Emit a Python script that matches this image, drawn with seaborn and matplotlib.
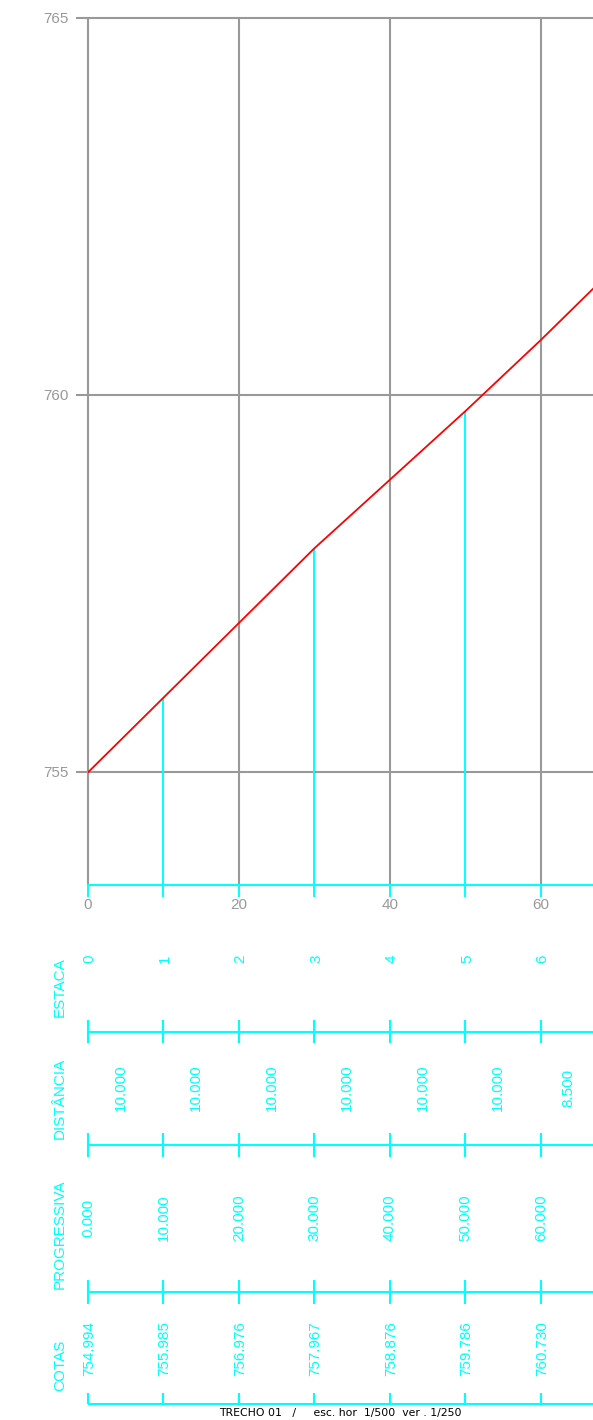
import numpy as np
import pandas as pd
import seaborn as sns
import matplotlib.pyplot as plt

# longitudinal profile data
estacas = [0, 1, 2, 3, 4, 5, 6]
distancias = [10.0, 10.0, 10.0, 10.0, 10.0, 10.0, 8.5]
progressivas = [0.0, 10.0, 20.0, 30.0, 40.0, 50.0, 60.0]
cotas = [754.994, 755.985, 756.976, 757.967, 758.876, 759.786, 760.730]
fim_progressiva = 68.5
fim_cota = 761.565
linhas_verticais = [10.0, 30.0, 50.0]

CYAN = "#00FFFF"
GRAY = "#999999"
W, H = 593, 1420
XMAX = 66.9
YMIN, YMAX = 753.5, 765
PX = (W - 88) / XMAX  # pixels per metre

sns.set_theme(style="white")
plt.rcParams["font.family"] = ["Liberation Sans", "DejaVu Sans"]

fig = plt.figure(figsize=(W / 100, H / 100), dpi=100)

# profile axes
ax = fig.add_axes([88 / W, 1 - 885 / H, (W - 88) / W, (885 - 18) / H])
perfil = pd.DataFrame({"x": progressivas + [fim_progressiva],
                       "cota": cotas + [fim_cota]})

for yv in [755, 760, 765]:
    ax.plot([0, XMAX], [yv, yv], color=GRAY, lw=1.5, zorder=1, clip_on=False)
for xv in [0, 20, 40, 60]:
    ax.plot([xv, xv], [YMIN, YMAX], color=GRAY, lw=1.5, zorder=1, clip_on=False)

for xv in linhas_verticais:
    ax.vlines(xv, YMIN, cotas[progressivas.index(xv)], color=CYAN, lw=1.4, zorder=2)

sns.lineplot(data=perfil, x="x", y="cota", color="red", lw=1.3, ax=ax, zorder=3)

ax.set_xlim(0, XMAX)
ax.set_ylim(YMIN, YMAX)
ax.set_xlabel("")
ax.set_ylabel("")
ax.set_yticks([755, 760, 765])
ax.set_xticks([0, 20, 40, 60])
ax.set_xticks([10, 30, 50], minor=True)
ax.tick_params(axis="y", left=True, length=8.6, width=1.5, color=GRAY,
               labelcolor=GRAY, labelsize=11, pad=5.5)
ax.tick_params(axis="x", which="both", bottom=True, length=8.3, width=1.4,
               color=CYAN, labelcolor=GRAY, labelsize=11, pad=1)
for s in ["top", "right", "left"]:
    ax.spines[s].set_visible(False)
ax.spines["bottom"].set_color(CYAN)
ax.spines["bottom"].set_linewidth(1.5)
ax.spines["bottom"].set_zorder(4)
ax.set_facecolor("white")

# table axes (y in pixels from the top)
tb = fig.add_axes([0, 0, 1, (H - 885) / H])
tb.set_xlim(-88 / PX, XMAX)
tb.set_ylim(H, 885)
tb.axis("off")

linhas = [(1032, 1020, 1043), (1145, 1133, 1157), (1292, 1280, 1304), (1404, 1393, 1404)]
for y, y0, y1 in linhas:
    tb.hlines(y, 0, XMAX, color=CYAN, lw=1.5)
    tb.vlines(progressivas, y0, y1, color=CYAN, lw=1.5)

txt = dict(color=CYAN, fontsize=11, rotation=90, ha="center", va="center")
lx = (60 - 88) / PX
tb.text(lx, 987, "ESTACA", **txt)
tb.text(lx, 1098, "DISTÂNCIA", **txt)
tb.text(lx, 1234, "PROGRESSIVA", **txt)
tb.text(lx, 1365, "COTAS", **txt)

for p, e, d, c in zip(progressivas, estacas, distancias, cotas):
    tb.text(p + 1.5 / PX, 959, str(e), **txt)
    tb.text(p + d / 2 - 5 / PX, 1088, f"{d:.3f}", **txt)
    tb.text(p, 1218, f"{p:.3f}", **txt)
    tb.text(p + 1 / PX, 1349, f"{c:.3f}", **txt)

tb.text((340 - 88) / PX, 1413, "TRECHO 01   /     esc. hor  1/500  ver . 1/250",
        color="black", fontsize=7.8, ha="center", va="center", family="DejaVu Sans")

fig.savefig("out.png", dpi=100, facecolor="white")
